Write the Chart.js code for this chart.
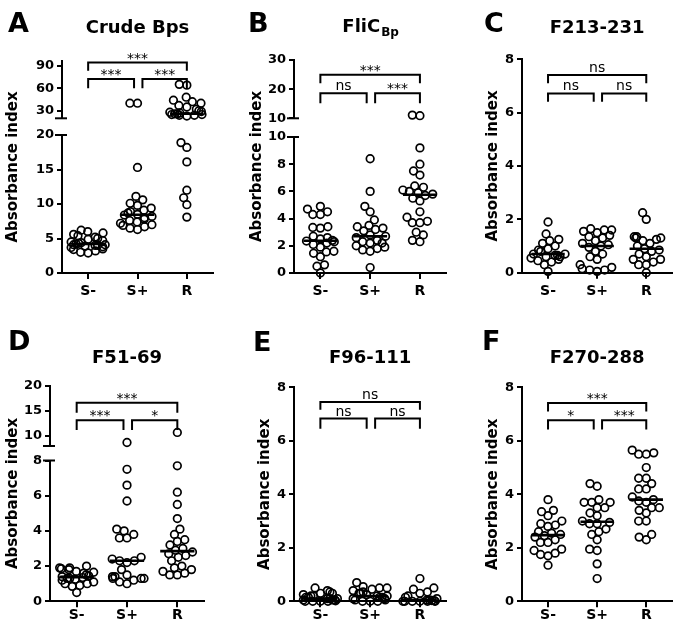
<!DOCTYPE html>
<html>
<head>
<meta charset="utf-8">
<script src="https://cdn.jsdelivr.net/npm/chart.js@4.4.1/dist/chart.umd.min.js"></script>
<style>
  html, body { margin: 0; padding: 0; background: #fff; }
  #fig { position: relative; width: 678px; height: 628px; }
  #fig canvas { position: absolute; }
</style>
</head>
<body>
<div id="fig">
  <canvas id="pA" width="226" height="314" style="left:0;top:0"></canvas>
  <canvas id="pB" width="226" height="314" style="left:226px;top:0"></canvas>
  <canvas id="pC" width="226" height="314" style="left:452px;top:0"></canvas>
  <canvas id="pD" width="226" height="314" style="left:0;top:314px"></canvas>
  <canvas id="pE" width="226" height="314" style="left:226px;top:314px"></canvas>
  <canvas id="pF" width="226" height="314" style="left:452px;top:314px"></canvas>
</div>
<script>
const groups = ['S-', 'S+', 'R'];

// A - Crude Bps
const aSneg = [2.9, 3.0, 3.2, 3.4, 3.5, 3.7, 3.8, 3.9, 4.0, 4.0, 4.1, 4.1, 4.2, 4.3, 4.4, 4.5, 4.7, 4.9, 5.0, 5.2, 5.4, 5.6, 5.8, 6.0, 6.2];
const aSpos = [6.3, 6.5, 6.7, 6.9, 7.0, 7.2, 7.4, 7.6, 7.8, 8.0, 8.2, 8.4, 8.5, 8.7, 8.9, 9.1, 9.4, 9.8, 10.1, 10.6, 11.1, 15.3, 40, 40];
const aR = [8.1, 9.9, 10.9, 12.0, 16.1, 18.2, 18.9, 23, 24, 24, 25, 25, 26, 26, 27, 28, 29, 30, 32, 35, 37, 40, 42, 44, 48, 64, 65];
const aTicksHigh = [30, 60, 90];
const aTicksLow = [0, 5, 10, 15, 20];
const aSig = ['***', '***', '***'];

// B - FliC Bp
const bSneg = [0, 0.5, 0.6, 1.2, 1.45, 1.55, 1.6, 1.9, 2.1, 2.2, 2.3, 2.35, 2.4, 2.5, 2.6, 2.7, 3.3, 3.35, 3.4, 4.3, 4.3, 4.5, 4.7, 4.9];
const bSpos = [0.4, 1.6, 1.7, 1.8, 1.9, 2.0, 2.2, 2.2, 2.3, 2.4, 2.6, 2.7, 2.8, 3.1, 3.2, 3.3, 3.4, 3.5, 3.9, 4.5, 4.9, 6.0, 8.4];
const bR = [2.3, 2.4, 2.8, 3.0, 3.7, 3.7, 3.8, 4.1, 4.5, 5.3, 5.5, 5.7, 5.8, 5.9, 6.0, 6.1, 6.3, 6.4, 7.2, 7.5, 8.0, 9.2, 10.9, 11.1];
const bTicksHigh = [10, 20, 30];
const bTicksLow = [0, 2, 4, 6, 8, 10];
const bSig = ['ns', '***', '***'];

// C - F213-231
const cSneg = [0.05, 0.3, 0.4, 0.45, 0.5, 0.55, 0.6, 0.6, 0.65, 0.65, 0.7, 0.7, 0.8, 0.85, 0.9, 1.0, 1.1, 1.2, 1.25, 1.45, 1.9];
const cSpos = [0.05, 0.1, 0.1, 0.15, 0.2, 0.3, 0.5, 0.6, 0.7, 0.8, 0.95, 1.0, 1.05, 1.1, 1.2, 1.3, 1.35, 1.4, 1.5, 1.55, 1.6, 1.6, 1.65];
const cR = [0.0, 0.3, 0.3, 0.4, 0.5, 0.5, 0.6, 0.7, 0.8, 0.85, 0.9, 1.0, 1.1, 1.2, 1.25, 1.3, 1.3, 1.35, 1.35, 2.0, 2.25];
const cTicks = [0, 2, 4, 6, 8];
const cSig = ['ns', 'ns', 'ns'];

// D - F51-69
const dSneg = [0.5, 0.85, 0.9, 1.0, 1.0, 1.1, 1.2, 1.25, 1.3, 1.3, 1.35, 1.4, 1.45, 1.5, 1.6, 1.65, 1.7, 1.8, 1.85, 1.9, 1.9, 2.0];
const dSpos = [1.0, 1.1, 1.2, 1.3, 1.3, 1.3, 1.4, 1.4, 1.5, 1.8, 2.2, 2.3, 2.3, 2.4, 2.5, 3.6, 3.6, 3.8, 4.0, 4.1, 5.7, 6.6, 7.5, 8.7];
const dR = [1.5, 1.5, 1.6, 1.7, 1.8, 1.9, 2.0, 2.3, 2.5, 2.6, 2.7, 2.8, 2.9, 3.0, 3.2, 3.4, 3.5, 3.8, 4.1, 4.7, 5.5, 6.2, 7.7, 10.7];
const dTicksHigh = [10, 15, 20];
const dTicksLow = [0, 2, 4, 6, 8];
const dSig = ['***', '*', '***'];

// E - F96-111
const eSneg = [0, 0, 0, 0, 0.02, 0.05, 0.05, 0.05, 0.1, 0.1, 0.1, 0.15, 0.15, 0.2, 0.2, 0.25, 0.3, 0.3, 0.35, 0.4, 0.5];
const eSpos = [0, 0, 0, 0.05, 0.05, 0.1, 0.1, 0.15, 0.15, 0.2, 0.2, 0.25, 0.3, 0.3, 0.35, 0.4, 0.45, 0.5, 0.5, 0.55, 0.7];
const eR = [0, 0, 0, 0, 0, 0, 0.02, 0.03, 0.05, 0.05, 0.1, 0.15, 0.2, 0.3, 0.35, 0.45, 0.5, 0.85];
const eTicks = [0, 2, 4, 6, 8];
const eSig = ['ns', 'ns', 'ns'];

// F - F270-288
const fSneg = [1.35, 1.7, 1.75, 1.8, 1.9, 1.95, 2.2, 2.2, 2.3, 2.4, 2.45, 2.5, 2.55, 2.6, 2.8, 2.85, 2.9, 3.0, 3.2, 3.35, 3.4, 3.8];
const fSpos = [0.85, 1.4, 1.9, 1.95, 2.3, 2.5, 2.6, 2.7, 2.9, 2.9, 2.95, 3.0, 3.2, 3.3, 3.5, 3.5, 3.7, 3.7, 3.7, 3.8, 4.3, 4.4];
const fR = [2.3, 2.4, 2.5, 3.0, 3.0, 3.3, 3.4, 3.5, 3.5, 3.7, 3.75, 3.8, 3.9, 4.2, 4.2, 4.4, 4.6, 4.6, 5.0, 5.5, 5.5, 5.55, 5.65];
const fTicks = [0, 2, 4, 6, 8];
const fSig = ['*', '***', '***'];

const FONT = 'DejaVu Sans';
const INK = '#000';

// layout of each panel (canvas coords); segments listed top to bottom
const panels = [
  { id: 'pA', letter: 'A', lx: 8, ly: 32, title: 'Crude Bps', ty: 33, yt: 17,
    sets: [aSneg, aSpos, aR], sig: aSig, xAxisH: 30, lblPad: 4,
    segs: [{ min: 20, max: 96, ticks: aTicksHigh, h: 57.3 }, { min: 0, max: 20, ticks: aTicksLow, h: 138 }], gap: 16.7,
    area: { left: 62, right: 213, top: 61, bottom: 273 }, br: [94, 83, 72, 60] },
  { id: 'pB', letter: 'B', lx: 22, ly: 32, title: 'FliC', sub: 'Bp', ty: 32, yt: 35,
    sets: [bSneg, bSpos, bR], sig: bSig, xAxisH: 30, lblPad: 4,
    segs: [{ min: 10, max: 30, ticks: bTicksHigh, h: 58.3 }, { min: 0, max: 10, ticks: bTicksLow, h: 136 }], gap: 18.7,
    area: { left: 68, right: 223, top: 60, bottom: 273 }, br: [24.9, 22, 18.6, 15.2] },
  { id: 'pC', letter: 'C', lx: 32, ly: 32, title: 'F213-231', ty: 33, yt: 45,
    sets: [cSneg, cSpos, cR], sig: cSig, xAxisH: 30, lblPad: 4,
    segs: [{ min: 0, max: 8, ticks: cTicks, h: 1 }], gap: 0,
    area: { left: 70, right: 223, top: 59.3, bottom: 272.7 }, br: [7.41, 7.1, 6.72, 6.41] },
  { id: 'pD', letter: 'D', lx: 8, ly: 36, title: 'F51-69', ty: 49, yt: 17,
    sets: [dSneg, dSpos, dR], sig: dSig, xAxisH: 26, lblPad: 0,
    segs: [{ min: 8, max: 20, ticks: dTicksHigh, h: 60.3 }, { min: 0, max: 8, ticks: dTicksLow, h: 140.8 }], gap: 14.5,
    area: { left: 50, right: 204, top: 71.7, bottom: 287.3 }, br: [16.6, 14.6, 13.1, 11.2] },
  { id: 'pE', letter: 'E', lx: 27, ly: 37, title: 'F96-111', ty: 49, yt: 43,
    sets: [eSneg, eSpos, eR], sig: eSig, xAxisH: 26, lblPad: 0,
    segs: [{ min: 0, max: 8, ticks: eTicks, h: 1 }], gap: 0,
    area: { left: 68, right: 222, top: 73.3, bottom: 287.3 }, br: [7.45, 7.16, 6.83, 6.45] },
  { id: 'pF', letter: 'F', lx: 30, ly: 36, title: 'F270-288', ty: 49, yt: 45,
    sets: [fSneg, fSpos, fR], sig: fSig, xAxisH: 26, lblPad: 0,
    segs: [{ min: 0, max: 8, ticks: fTicks, h: 1 }], gap: 0,
    area: { left: 70, right: 222, top: 73.3, bottom: 287.3 }, br: [7.41, 7.1, 6.77, 6.42] }
];

function median(arr) {
  const s = [...arr].sort((a, b) => a - b);
  const m = Math.floor(s.length / 2);
  return s.length % 2 ? s[m] : (s[m - 1] + s[m]) / 2;
}

function segOf(p, v) {
  for (let i = 0; i < p.segs.length; i++) if (v >= p.segs[i].min) return i;
  return p.segs.length - 1;
}

// spread the dots of each group sideways so they don't sit on top of each other
function swarm(chart, marks) {
  const xs = chart.scales.x;
  const pxUnit = xs.getPixelForValue(2) - xs.getPixelForValue(1);
  const D = 7.6, LIM = 17;
  [0, 1, 2].forEach(g => {
    const pts = [];
    marks.filter(m => m.g === g).forEach(m => {
      const ds = chart.data.datasets[m.i];
      const ys = chart.scales[ds.yAxisID];
      ds.data.forEach(d => pts.push({ d, py: ys.getPixelForValue(d.y), x: 0 }));
    });
    pts.sort((a, b) => b.py - a.py);
    const placed = [];
    pts.forEach(pt => {
      const blocks = placed.filter(q => Math.abs(q.py - pt.py) < D).map(q => {
        const w = Math.sqrt(D * D - (q.py - pt.py) ** 2);
        return [q.x - w, q.x + w];
      });
      const cands = [0];
      blocks.forEach(b => cands.push(b[0], b[1]));
      cands.sort((a, b) => Math.abs(a) - Math.abs(b));
      let best = cands.find(c => blocks.every(b => c <= b[0] + 1e-6 || c >= b[1] - 1e-6));
      if (best === undefined) best = 0;
      if (Math.abs(best) > LIM) best = Math.sign(best) * (LIM - (placed.length % 5) * 2.5);
      pt.x = best;
      placed.push(pt);
      pt.d.x = g + 1 + best / pxUnit;
    });
  });
  chart.update('none');
}

function decoPlugin(p) {
  return {
    id: 'deco',
    afterDraw(chart) {
      const ctx = chart.ctx;
      const a = chart.chartArea;
      const xs = chart.scales.x;
      ctx.save();
      ctx.fillStyle = INK;
      ctx.strokeStyle = INK;
      ctx.textBaseline = 'alphabetic';

      ctx.font = `bold 27px "${FONT}"`;
      ctx.textAlign = 'left';
      ctx.fillText(p.letter, p.lx, p.ly);

      // title, centred over the plot
      const cx = (a.left + a.right) / 2;
      ctx.font = `bold 18px "${FONT}"`;
      const w1 = ctx.measureText(p.title).width;
      let w2 = 0;
      if (p.sub) {
        ctx.font = `bold 12px "${FONT}"`;
        w2 = ctx.measureText(p.sub).width;
      }
      const tx = cx - (w1 + w2) / 2;
      ctx.font = `bold 18px "${FONT}"`;
      ctx.fillText(p.title, tx, p.ty);
      if (p.sub) {
        ctx.font = `bold 12px "${FONT}"`;
        ctx.fillText(p.sub, tx + w1 + 1, p.ty + 4);
      }

      ctx.save();
      ctx.translate(p.yt, (a.top + a.bottom) / 2);
      ctx.rotate(-Math.PI / 2);
      ctx.textAlign = 'center';
      ctx.font = `bold 15px "${FONT}"`;
      ctx.fillText('Absorbance index', 0, 0);
      ctx.restore();

      // caps at the axis break
      ctx.lineWidth = 2;
      const n = p.segs.length;
      p.segs.forEach((s, i) => {
        const ys = chart.scales['y' + i];
        const ax = a.left;
        const cap = y => {
          ctx.beginPath();
          ctx.moveTo(ax - 7, y);
          ctx.lineTo(ax + 5, y);
          ctx.stroke();
        };
        if (i > 0) cap(ys.getPixelForValue(s.max));
        if (i < n - 1) cap(ys.getPixelForValue(s.min));
      });

      // significance brackets
      const top = chart.scales.y0;
      const X = v => xs.getPixelForValue(v);
      const Y = v => top.getPixelForValue(v);
      const bracket = (x1, x2, yl, yg, label) => {
        ctx.beginPath();
        ctx.moveTo(x1, yg);
        ctx.lineTo(x1, yl);
        ctx.lineTo(x2, yl);
        ctx.lineTo(x2, yg);
        ctx.stroke();
        ctx.font = `14px "${FONT}"`;
        ctx.textAlign = 'center';
        const off = label.includes('*') ? 0 : 3;
        ctx.fillText(label, (x1 + x2) / 2, yl - off);
      };
      ctx.lineWidth = 2;
      ctx.lineJoin = 'miter';
      bracket(X(1), X(1.93), Y(p.br[2]), Y(p.br[3]), p.sig[0]);
      bracket(X(2.1), X(3), Y(p.br[2]), Y(p.br[3]), p.sig[1]);
      bracket(X(1), X(3), Y(p.br[0]), Y(p.br[1]), p.sig[2]);
      ctx.restore();
    }
  };
}

function makeChart(p) {
  const tickFont = { family: FONT, size: 13, weight: 'bold' };
  const scales = {
    x: {
      type: 'linear', position: 'bottom', min: 0.47, max: 3.53,
      afterBuildTicks: sc => { sc.ticks = groups.map((g, i) => ({ value: i + 1 })); },
      afterFit: sc => { sc.height = p.xAxisH; },
      ticks: { callback: (v, i) => groups[i], font: { family: FONT, size: 14, weight: 'bold' }, color: INK, padding: p.lblPad, maxRotation: 0, autoSkip: false },
      grid: { drawOnChartArea: false, tickLength: 6, lineWidth: 2, color: INK },
      border: { color: INK, width: 2 }
    }
  };
  const n = p.segs.length;
  p.segs.forEach((s, i) => {
    scales['y' + i] = {
      type: 'linear', position: 'left', stack: 'left', stackWeight: s.h, weight: 20 - 2 * i,
      min: s.min, max: s.max,
      afterBuildTicks: sc => { sc.ticks = s.ticks.map(v => ({ value: v })); },
      afterFit: sc => { sc.width = p.area.left; },
      ticks: { font: tickFont, color: INK, padding: 3, autoSkip: false },
      grid: { drawOnChartArea: false, tickLength: 5, lineWidth: 2, color: INK },
      border: { color: INK, width: 2 }
    };
    if (i < n - 1) {
      scales['gap' + i] = {
        type: 'linear', position: 'left', stack: 'left', stackWeight: p.gap, weight: 19 - 2 * i,
        min: 0, max: 1,
        afterFit: sc => { sc.width = p.area.left; },
        ticks: { display: false }, grid: { display: false }, border: { display: false }
      };
    }
  });

  const datasets = [];
  const marks = [];
  p.sets.forEach((vals, g) => {
    p.segs.forEach((s, i) => {
      const pts = vals.filter(v => segOf(p, v) === i).map(v => ({ x: g + 1, y: v }));
      if (!pts.length) return;
      marks.push({ g, i: datasets.length });
      datasets.push({
        data: pts, yAxisID: 'y' + i, showLine: false, clip: false,
        pointRadius: 3.8, pointBorderWidth: 1.7,
        pointBackgroundColor: 'rgba(0,0,0,0)', pointBorderColor: INK
      });
    });
    const med = median(vals);
    datasets.push({
      data: [{ x: g + 1 - 0.34, y: med }, { x: g + 1 + 0.34, y: med }],
      yAxisID: 'y' + segOf(p, med), showLine: true, clip: false,
      borderColor: INK, borderWidth: 2.6, pointRadius: 0
    });
  });

  const canvas = document.getElementById(p.id);
  const chart = new Chart(canvas, {
    type: 'scatter',
    data: { datasets },
    options: {
      responsive: false,
      animation: false,
      devicePixelRatio: 1,
      events: [],
      layout: { padding: { left: 0, right: canvas.width - p.area.right, top: p.area.top, bottom: canvas.height - p.area.bottom - p.xAxisH } },
      plugins: { legend: { display: false }, tooltip: { enabled: false }, title: { display: false } },
      scales
    },
    plugins: [decoPlugin(p)]
  });
  swarm(chart, marks);
  return chart;
}

panels.forEach(makeChart);
</script>
</body>
</html>
